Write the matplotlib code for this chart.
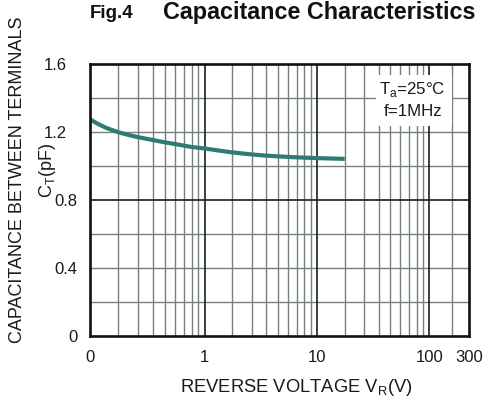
import numpy as np
import matplotlib
matplotlib.use("Agg")
import matplotlib.pyplot as plt
from matplotlib.patches import Rectangle
from matplotlib.transforms import ScaledTranslation

plt.rcParams['font.family'] = ['Liberation Sans', 'DejaVu Sans']

# ---- data ----
voltage_v = [0.1, 0.12, 0.15, 0.2, 0.25, 0.3, 0.4, 0.5, 0.6, 0.7, 0.8, 1,
             1.5, 2, 3, 4, 5, 7, 10, 15, 20]
capacitance_pf = [1.276, 1.250, 1.224, 1.199, 1.182, 1.170, 1.153, 1.139,
                  1.129, 1.120, 1.112, 1.103, 1.089, 1.080, 1.068, 1.061,
                  1.0565, 1.051, 1.0465, 1.0437, 1.042]

x_ticks = [0.1, 1, 10, 100, 300]
x_tick_labels = ['0', '1', '10', '100', '300']
y_ticks = [0, 0.4, 0.8, 1.2, 1.6]
y_tick_labels = ['0', '0.4', '0.8', '1.2', '1.6']

# ---- the chart's own (quasi-log) axis scale ----
def _frac(n):
    return (np.log10(n + 0.8) - np.log10(1.8)) / (np.log10(10.8) - np.log10(1.8))

_lv, _u = [], []
for k, d in enumerate([0.1, 1, 10]):
    for n in range(1, 10):
        _lv.append(np.log10(d * n))
        if k == 0:
            _u.append(-1.024 + _frac(n) * 1.024)
        else:
            _u.append((k - 1) + _frac(n))
_lv += [2.0, np.log10(200), np.log10(300)]
_u += [2.0, 2.2, 2.35]
_lv = np.array(_lv)
_u = np.array(_u)


def fwd(x):
    x = np.asarray(x, dtype=float)
    with np.errstate(divide='ignore', invalid='ignore'):
        lx = np.log10(np.clip(x, 1e-6, None))
    return np.interp(lx, _lv, _u)


def inv(u):
    u = np.asarray(u, dtype=float)
    return 10 ** np.interp(u, _u, _lv)


fig = plt.figure(figsize=(4.91, 4.01), dpi=100)
ax = fig.add_axes([89.7 / 491, 65 / 401, 379 / 491, 272 / 401])
ax.set_xscale('function', functions=(fwd, inv))
ax.set_xlim(0.1, 300)
ax.set_ylim(0, 1.6)

grid_minor = '#76817f'
grid_major = '#1e1e1e'
for d in [0.1, 1, 10]:
    for n in range(2, 10):
        ax.axvline(d * n, color=grid_minor, lw=1.0, zorder=1)
ax.axvline(200, color=grid_minor, lw=1.0, zorder=1)
for v in [1, 10, 100]:
    ax.axvline(v, color=grid_major, lw=1.2, zorder=1.5)
for yv in [0.2, 0.4, 0.6, 1.0, 1.2, 1.4]:
    ax.axhline(yv, color=grid_minor, lw=1.0, zorder=1)
ax.axhline(0.8, color=grid_major, lw=1.2, zorder=1.5)

ax.plot(voltage_v, capacitance_pf, color='#2e7b73', lw=3.0,
        solid_capstyle='butt', solid_joinstyle='round', zorder=3)

for s in ax.spines.values():
    s.set_linewidth(1.9)
    s.set_color('#111111')
    s.set_zorder(5)

ax.set_xticks(x_ticks)
ax.set_xticklabels(x_tick_labels)
ax.xaxis.set_minor_locator(matplotlib.ticker.NullLocator())
ax.set_yticks(y_ticks)
ax.set_yticklabels(y_tick_labels)
ax.tick_params(length=0, labelsize=12, colors='#1a1a1a', pad=10)
ax.tick_params(axis='y', pad=9)
for lab in ax.get_yticklabels():
    if lab.get_text().startswith('1.'):
        lab.set_transform(lab.get_transform() +
                          ScaledTranslation(-10 / 100, 0, fig.dpi_scale_trans))

# condition box
ax.add_patch(Rectangle((0.755, 0.772), 0.200, 0.188, transform=ax.transAxes,
                       facecolor='white', edgecolor='none', zorder=4))
ax.text(0.852, 0.905, r'T$_{\mathregular{a}}$=25°C', transform=ax.transAxes,
        ha='center', va='center', fontsize=12.2, color='#1a1a1a', zorder=6)
ax.text(0.852, 0.825, 'f=1MHz', transform=ax.transAxes,
        ha='center', va='center', fontsize=12.2, color='#1a1a1a', zorder=6)

fig.text(112 / 491, 1 - 13 / 401, 'Fig.4', ha='center', va='center',
         fontsize=13.5, fontweight='bold', color='#111111')
fig.text(319 / 491, 1 - 13 / 401, 'Capacitance Characteristics', ha='center',
         va='center', fontsize=16.8, fontweight='bold', color='#111111')

fig.text(18 / 491, 1 - 180 / 401, 'CAPACITANCE BETWEEN TERMINALS', rotation=90,
         ha='center', va='center', fontsize=13.0, color='#1a1a1a')
fig.text(48 / 491, 1 - 170 / 401, r'C$_{\mathregular{T}}$(pF)', rotation=90,
         ha='center', va='center', fontsize=13.0, color='#1a1a1a')
fig.text(296 / 491, 1 - 388 / 401, r'REVERSE VOLTAGE V$_{\mathregular{R}}$(V)',
         ha='center', va='center', fontsize=13.2, color='#1a1a1a')

fig.savefig('out.png', dpi=100)
